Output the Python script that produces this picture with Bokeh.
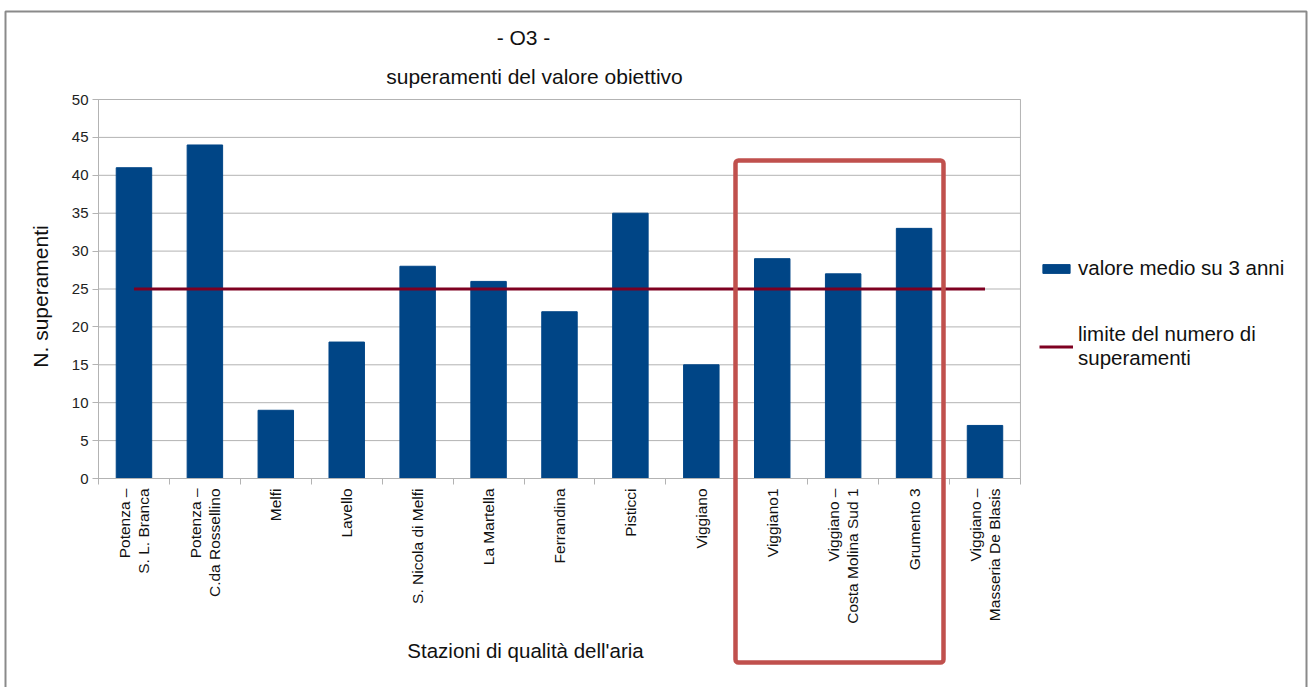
import math
from bokeh.plotting import figure
from bokeh.models import (Range1d, LinearAxis, FixedTicker, BoxAnnotation, Label, Legend, LegendItem)
from bokeh.core.properties import value
from bokeh.embed import file_html
from bokeh.resources import INLINE

stations = ["Potenza –\nS. L. Branca", "Potenza –\nC.da Rossellino", "Melfi", "Lavello",
            "S. Nicola di Melfi", "La Martella", "Ferrandina", "Pisticci", "Viggiano",
            "Viggiano1", "Viggiano –\nCosta Molina Sud 1", "Grumento 3",
            "Viggiano –\nMasseria De Blasis"]
values = [41, 44, 9, 18, 28, 26, 22, 35, 15, 29, 27, 33, 7]
limit = [25] * len(stations)
y_ticks = list(range(0, 55, 5))

n = len(stations)
centers = [i + 0.5 for i in range(n)]
edges = list(range(n + 1))

FONT = "Liberation Sans"
GRID = "#b3b3b3"
TXT = "#111111"

W, H = 1308, 687
PX_X0, PX_XW = 98.0, 70.92      # pixel of x=0, pixels per category
PX_Y0, PX_YU = 478.0, 7.58      # pixel of y=0, pixels per unit


def dx(px):
    return (px - PX_X0) / PX_XW


def dy(py):
    return (PX_Y0 - py) / PX_YU


p = figure(width=W, height=H,
           x_range=Range1d(dx(0), dx(W)), y_range=Range1d(dy(H), dy(0)),
           output_backend="svg", toolbar_location=None,
           x_axis_location=None, y_axis_location=None,
           min_border=0, min_border_left=0, min_border_right=0,
           min_border_top=0, min_border_bottom=0)
p.title.visible = False
p.outline_line_color = None
p.xgrid.visible = False
p.ygrid.visible = False

# horizontal grid lines over the plot area
p.segment(x0=[0] * len(y_ticks), x1=[n] * len(y_ticks), y0=y_ticks, y1=y_ticks,
          line_color=GRID, line_width=1)
# plot-area outline
p.add_layout(BoxAnnotation(left=0, right=n, bottom=0, top=max(y_ticks), fill_alpha=0,
                           line_color=GRID, line_alpha=1, line_width=1, level="underlay"))

# y axis
ya = LinearAxis(fixed_location=0, bounds=(0, max(y_ticks)), ticker=FixedTicker(ticks=y_ticks),
                axis_line_color=GRID, major_tick_line_color=GRID, major_tick_out=6, major_tick_in=0,
                minor_tick_line_color=None, major_label_text_font=FONT,
                major_label_text_font_size="15px", major_label_text_color="#222222",
                major_label_standoff=4)
p.add_layout(ya, "left")

# x axis line with tick marks at category edges
xa = LinearAxis(fixed_location=0, bounds=(0, n),
                ticker=FixedTicker(ticks=[], minor_ticks=edges),
                axis_line_color=GRID, major_tick_line_color=None, major_tick_out=0, major_tick_in=0,
                minor_tick_line_color=GRID, minor_tick_out=6, minor_tick_in=0)
p.add_layout(xa, "below")

# category labels, rotated, right-aligned under each category
p.text(x=centers, y=[0] * n, text=stations, angle=math.pi / 2, y_offset=10,
       text_align="right", text_baseline="middle", text_font=value(FONT),
       text_font_size="15.5px", text_color=TXT, text_line_height=1.15)

bars = p.vbar(x=centers, top=values, width=0.5, fill_color="#004586", line_color="#004586")
line = p.line(x=centers, y=limit, line_color="#7e0021", line_width=3)

legend = Legend(items=[LegendItem(label="valore medio su 3 anni", renderers=[bars]),
                       LegendItem(label="limite del numero di\nsuperamenti", renderers=[line])],
                location=(1039, 317), orientation="vertical",
                glyph_width=34, glyph_height=11, label_standoff=5, spacing=42,
                padding=0, margin=0, border_line_color=None, background_fill_alpha=0,
                label_text_font=FONT, label_text_font_size="20.5px", label_text_color=TXT)
p.add_layout(legend, "center")

# titles
for txt, px, py in [("- O3 -", 523, 37), ("superamenti del valore obiettivo", 534, 76)]:
    p.add_layout(Label(x=dx(px), y=dy(py), text=txt, text_align="center", text_baseline="middle",
                       text_font=FONT, text_font_size="21px", text_color=TXT))

# axis titles
p.add_layout(Label(x=dx(525), y=dy(650), text="Stazioni di qualità dell'aria", text_align="center",
                   text_baseline="middle", text_font=FONT, text_font_size="20.5px", text_color=TXT))
p.add_layout(Label(x=dx(40), y=dy(296), text="N. superamenti", angle=math.pi / 2,
                   text_align="center", text_baseline="middle", text_font=FONT,
                   text_font_size="21px", text_color=TXT))

# highlight box
p.add_layout(BoxAnnotation(left=dx(735), right=dx(943), top=dy(160), bottom=dy(662),
                           fill_alpha=0, line_color="#c0504d", line_alpha=1, line_width=4.5,
                           border_radius=3))

# outer border
p.add_layout(BoxAnnotation(left=dx(5), right=dx(1306), top=dy(11), bottom=dy(H + 20),
                           fill_alpha=0, line_color="#8a8a8a", line_alpha=1, line_width=2))

open("out.html", "w").write(file_html(p, INLINE))
